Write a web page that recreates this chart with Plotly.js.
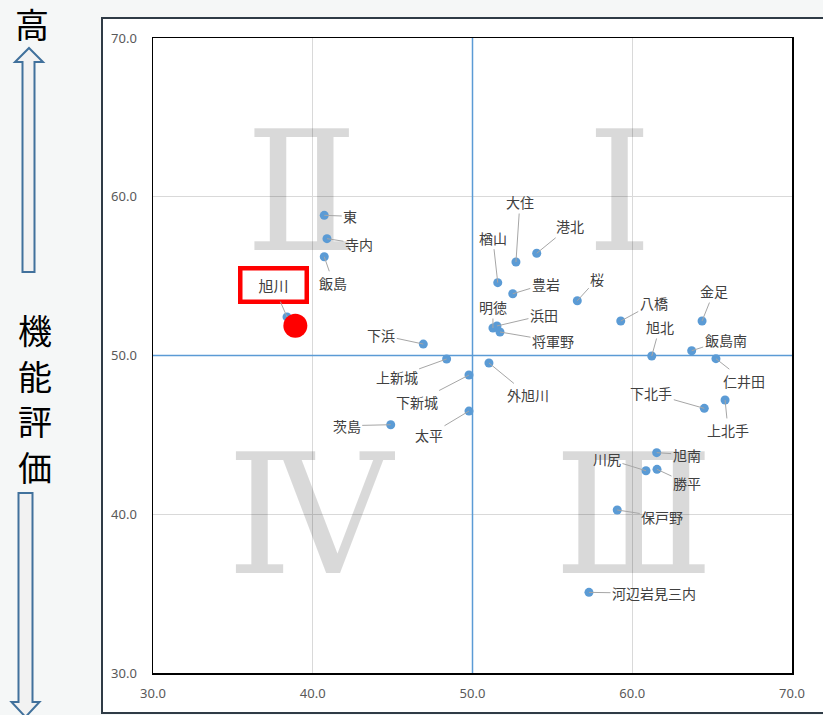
<!DOCTYPE html>
<html><head><meta charset="utf-8">
<script src="https://cdn.plot.ly/plotly-3.0.1.min.js"></script>
<style>html,body{margin:0;padding:0;background:#f5f7f7;}</style>
</head><body><div id="chart" style="width:823px;height:715px;"></div>
<script>
// ---- data ----
const names = ['東','寺内','飯島','旭川','下浜','上新城','下新城','外旭川','茨島','太平',
  '大住','港北','楢山','豊岩','桜','明徳','浜田','将軍野',
  '八橋','金足','旭北','飯島南','仁井田','下北手','上北手',
  '旭南','川尻','勝平','保戸野','河辺岩見三内'];
const xVals = [40.72,40.89,40.72,38.39,46.92,48.38,49.78,51.03,44.88,49.78,
  52.72,54.02,51.58,52.52,56.56,51.28,51.53,51.72,
  59.28,64.37,61.22,63.72,65.24,64.51,65.81,
  61.53,60.86,61.55,59.06,57.29];
const yVals = [58.83,57.36,56.22,52.43,50.72,49.78,48.77,49.53,45.64,46.50,
  55.89,56.44,54.59,53.89,53.45,51.73,51.86,51.48,
  52.17,52.17,49.97,50.30,49.80,46.67,47.20,
  43.88,42.74,42.83,40.27,35.08];
const highlightName = '旭川';
const highlightX = [38.91];
const highlightY = [51.88];
const xTicks = [30,40,50,60,70];
const yTicks = [30,40,50,60,70];
const quadrantText = ['Ⅰ','Ⅱ','Ⅲ','Ⅳ'];
const quadrantCX = [59.2,39.3,60.1,39.8];
const quadrantCY = [61.0,61.0,40.7,40.7];

// ---- label offsets (pixels, style) ----
const labelOffsets = {
  '東':[26,1],'寺内':[32,5],'飯島':[9,26],'旭川':[-14,-32],'下浜':[-42,-9],'上新城':[-50,18],
  '下新城':[-52,27],'外旭川':[39,32],'茨島':[-44,1],'太平':[-40,24],'大住':[4,-60],'港北':[33,-27],
  '楢山':[-5,-45],'豊岩':[33,-10],'桜':[20,-22],'明徳':[0,-21],'浜田':[47,-11],'将軍野':[53,9],
  '八橋':[33,-18],'金足':[12,-30],'旭北':[8,-29],'飯島南':[34,-11],'仁井田':[28,22],'下北手':[-53,-15],
  '上北手':[3,30],'旭南':[30,2],'川尻':[-39,-12],'勝平':[30,14],'保戸野':[45,7],'河辺岩見三内':[65,1]
};

const W=823,H=715,ML=153,MR=31,MT=38,MB=42;
const PW=W-ML-MR, PH=H-MT-MB;
function px(x){return (x-ML)/PW;}
function py(y){return (H-MB-y)/PH;}
function pathOf(pts){return 'M '+pts.map(p=>px(p[0])+','+py(p[1])).join(' L ')+' Z';}

const CJK='"Noto Sans CJK JP", "Noto Sans", sans-serif';

const traces = [
  {type:'scatter',mode:'markers',x:xVals,y:yVals,text:names,
   marker:{color:'#5b9bd5',size:9},hoverinfo:'text',cliponaxis:false},
  {type:'scatter',mode:'markers',x:highlightX,y:highlightY,text:[highlightName],
   marker:{color:'#ff0000',size:24},hoverinfo:'text'}
];

const annotations = names.map((n,i)=>{
  const o = labelOffsets[n];
  const a = {x:xVals[i],y:yVals[i],xref:'x',yref:'y',text:n,showarrow:true,
    arrowhead:0,arrowwidth:1,arrowcolor:'#a6a6a6',ax:o[0],ay:o[1],standoff:0,
    font:{family:CJK,size:14,color:'#404040'},borderpad:1};
  if(n===highlightName){
    Object.assign(a,{bgcolor:'#ffffff',bordercolor:'#ff0000',borderwidth:4.5,
      width:56,height:23,borderpad:3,font:{family:CJK,size:15,color:'#404040'}});
  }
  return a;
});
// side texts
annotations.push({xref:'paper',yref:'paper',x:px(31.5),y:py(23),text:'高',showarrow:false,
  xanchor:'center',yanchor:'middle',font:{family:CJK,size:34,color:'#000'}});
['機','能','評','価'].forEach((c,i)=>{
  annotations.push({xref:'paper',yref:'paper',x:px(35),y:py([329,375,421,466][i]),text:c,showarrow:false,
    xanchor:'center',yanchor:'middle',font:{family:CJK,size:34,color:'#000'}});
});

const shapes = [
  {type:'rect',xref:'paper',yref:'paper',x0:px(102),x1:px(840),y0:py(713),y1:py(18),
   fillcolor:'#ffffff',line:{color:'#2f3b46',width:2},layer:'below'},
  {type:'path',xref:'paper',yref:'paper',path:pathOf([[29,48],[43,62],[34.5,62],[34.5,272],[22.5,272],[22.5,62],[15,62]]),
   fillcolor:'#f2f2f2',line:{color:'#41719c',width:2},layer:'above'},
  {type:'path',xref:'paper',yref:'paper',path:pathOf([[18.5,493],[32.5,493],[32.5,702],[39.5,702],[25.5,717],[11.5,702],[18.5,702]]),
   fillcolor:'#f2f2f2',line:{color:'#41719c',width:2},layer:'above'},
  {type:'line',xref:'x',yref:'y',x0:50,x1:50,y0:30,y1:70,line:{color:'#5b9bd5',width:1.5},layer:'between'},
  {type:'line',xref:'x',yref:'y',x0:30,x1:70,y0:50,y1:50,line:{color:'#5b9bd5',width:1.5},layer:'between'}
];
quadrantText.forEach((t,i)=>{
  shapes.push({type:'rect',xref:'x',yref:'y',x0:quadrantCX[i]-4,x1:quadrantCX[i]+4,
    y0:quadrantCY[i]-4,y1:quadrantCY[i]+4,line:{width:0},fillcolor:'rgba(0,0,0,0)',layer:'between',
    label:{text:t,textposition:'middle center',font:{family:'"DejaVu Serif", serif',size:166,color:'rgba(0,0,0,0.15)'}}});
});

const tickFont = {family:'"Noto Sans", sans-serif',size:13,color:'#595959'};
const layout = {
  width:W,height:H,margin:{l:ML,r:MR,t:MT,b:MB},
  paper_bgcolor:'#f5f7f7',plot_bgcolor:'#ffffff',showlegend:false,
  xaxis:{range:[30,70],tickvals:xTicks,ticktext:xTicks.map(v=>v.toFixed(1)),showgrid:true,
    gridcolor:'#d9d9d9',gridwidth:1,zeroline:false,showline:true,linecolor:'#000',linewidth:1.5,
    mirror:true,ticks:'',tickfont:tickFont,ticklabelstandoff:8,fixedrange:true},
  yaxis:{range:[30,70],tickvals:yTicks,ticktext:yTicks.map(v=>v.toFixed(1)),showgrid:true,
    gridcolor:'#d9d9d9',gridwidth:1,zeroline:false,showline:true,linecolor:'#000',linewidth:1.5,
    mirror:true,ticks:'',tickfont:tickFont,ticklabelstandoff:12,fixedrange:true},
  annotations:annotations,shapes:shapes
};
Plotly.newPlot('chart',traces,layout,{displayModeBar:false,staticPlot:true});
</script></body></html>
